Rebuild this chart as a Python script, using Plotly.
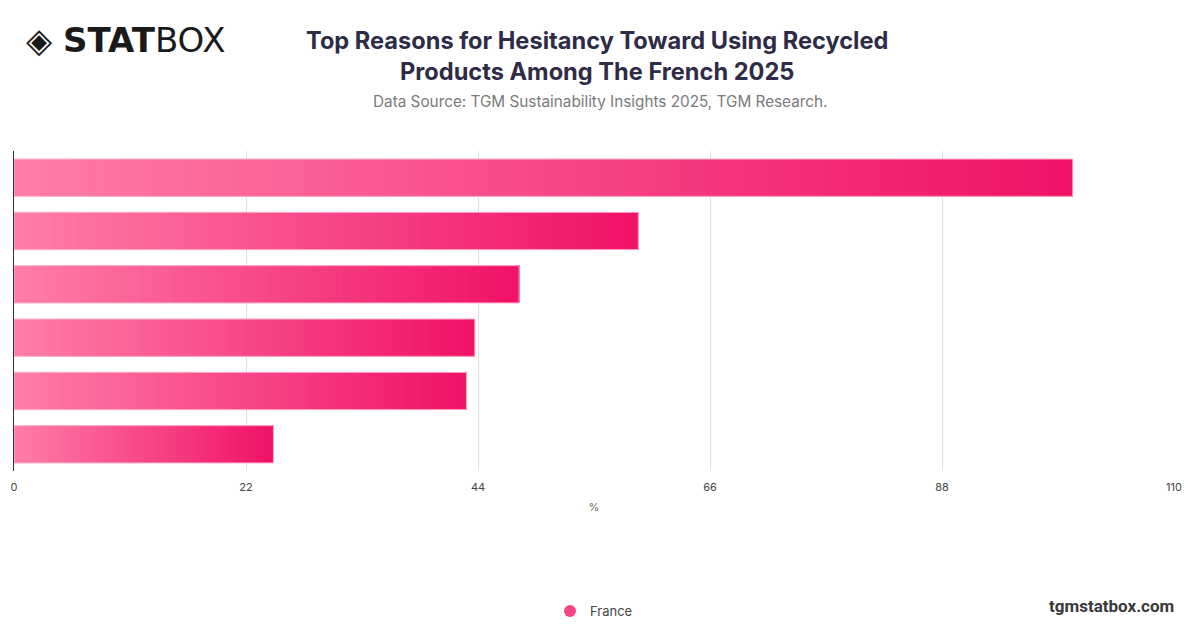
import plotly.graph_objects as go

# data
reasons = ["Reason 1", "Reason 2", "Reason 3", "Reason 4", "Reason 5", "Reason 6"]
france = [100.4, 59.2, 47.9, 43.7, 42.9, 24.6]
x_ticks = [0, 22, 44, 66, 88, 110]

# gradient ends (left -> right) for every bar
left_rgb = (255, 124, 168)
right_rgb = (240, 18, 104)
n_steps = 80

# page body adds an 8px margin, so the figure is a bit smaller and shifted
OFF = 8
W, H = 1192, 620
L, R, T, B = 6, 26, 143, 157
plot_w = W - L - R
plot_h = H - T - B


def px(x):
    # screen x -> paper x
    return (x - OFF - L) / plot_w


def py(y):
    # screen y -> paper y
    return (H - B - (y - OFF)) / plot_h


def mix(t):
    return "rgb({},{},{})".format(*[round(a + (b - a) * t) for a, b in zip(left_rgb, right_rgb)])


fig = go.Figure()

# each bar is drawn as overlapping slices so it can carry a left-to-right gradient
seg_y, seg_x, seg_base, seg_col = [], [], [], []
for name, val in zip(reasons, france):
    for i in range(n_steps):
        seg_y.append(name)
        seg_base.append(val * i / n_steps)
        seg_x.append(val * (1 - i / n_steps))
        seg_col.append(mix(i / (n_steps - 1)))

fig.add_trace(go.Bar(
    y=seg_y, x=seg_x, base=seg_base, orientation="h",
    marker=dict(color=seg_col, line=dict(width=0)),
    showlegend=False, hoverinfo="skip",
))

# outline of the whole bar
fig.add_trace(go.Bar(
    y=reasons, x=france, orientation="h", name="France",
    marker=dict(color="rgba(0,0,0,0)", line=dict(color="#ffb3cf", width=1)),
    showlegend=False,
))

# legend entry
fig.add_trace(go.Scatter(
    x=[None], y=[None], mode="markers", name="France",
    marker=dict(symbol="circle", size=14, color="#f5468a"),
))

fig.update_layout(
    width=W, height=H,
    margin=dict(l=L, r=R, t=T, b=B, autoexpand=False),
    paper_bgcolor="white", plot_bgcolor="white",
    barmode="overlay", bargap=0.3,
    font=dict(family="Inter, Roboto, sans-serif", color="#444"),
    xaxis=dict(
        range=[0, 110], tickvals=x_ticks, showgrid=True, gridcolor="#dedede",
        gridwidth=1, zeroline=False, showline=False,
        ticks="outside", ticklen=6, tickcolor="rgba(0,0,0,0)",
        tickfont=dict(size=11, color="#444"),
        title=dict(text="%", font=dict(size=11, color="#666"), standoff=10),
    ),
    yaxis=dict(
        categoryorder="array", categoryarray=reasons, autorange="reversed",
        showticklabels=False, showgrid=False, zeroline=False,
        showline=True, linecolor="#333", linewidth=1, ticks="",
    ),
    legend=dict(
        orientation="h", x=0.5, xanchor="center", y=py(611), yanchor="middle",
        font=dict(size=13, color="#444"), itemsizing="constant",
    ),
    annotations=[
        dict(text="Top Reasons for Hesitancy Toward Using Recycled<br>Products Among The French 2025",
             x=px(597), y=py(56), xref="paper", yref="paper", showarrow=False,
             xanchor="center", yanchor="middle",
             font=dict(size=23.6, color="#2e2b47", family="Inter, sans-serif", weight=700)),
        dict(text="Data Source: TGM Sustainability Insights 2025, TGM Research.",
             x=px(600), y=py(101), xref="paper", yref="paper", showarrow=False,
             xanchor="center", yanchor="middle",
             font=dict(size=15.3, color="#7a7a7a", family="Inter, sans-serif")),
        dict(text="◈ <b>STAT</b>BOX",
             x=px(24), y=py(40), xref="paper", yref="paper", showarrow=False,
             xanchor="left", yanchor="middle",
             font=dict(size=34, color="#1a1a1a", family="DejaVu Sans, sans-serif")),
        dict(text="<b>tgmstatbox.com</b>",
             x=px(1176), y=py(606), xref="paper", yref="paper", showarrow=False,
             xanchor="right", yanchor="middle",
             font=dict(size=17, color="#3a3a3a", family="Roboto, sans-serif")),
    ],
)

fig.write_html("out.html")
